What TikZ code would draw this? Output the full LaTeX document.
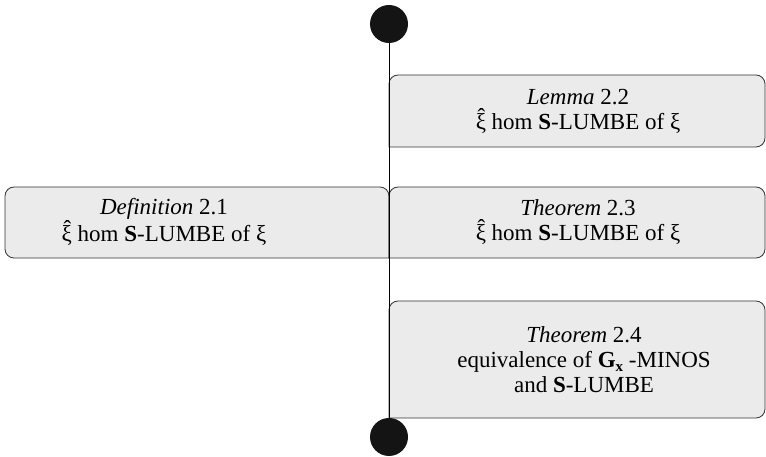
\documentclass[tikz,border=0pt]{standalone}
\usepackage{fontspec}
\setmainfont{Liberation Serif}
\newcommand\xihat{\leavevmode\rlap{\raisebox{0.22em}{\kern0.08em\char"02C6}}ξ}
\begin{document}
\begin{tikzpicture}[x=1pt,y=1pt,
  box/.style={draw=black!80,fill=black!8,line width=0.8pt},
  txt/.style={align=center,font=\fontsize{23}{25}\selectfont,inner sep=0pt},
  dot/.style={circle,fill=black!92,minimum size=38pt,inner sep=0pt}]
\useasboundingbox (0,0) rectangle (766,457);
% boxes
\draw[box,rounded corners=9pt] (389,310) -- (765,310) -- (765,382) -- (389,382) [sharp corners] -- cycle;
\draw[box,rounded corners=9pt] (389,199) -- (5,199) -- (5,270) -- (389,270) [sharp corners] -- cycle;
\draw[box,rounded corners=9pt] (389,199) -- (765,199) -- (765,270) -- (389,270) [sharp corners] -- cycle;
\draw[box,rounded corners=9pt] (389,39) -- (765,39) -- (765,156) -- (389,156) [sharp corners] -- cycle;
\node[dot] (top) at (389,433) {};
\node[dot] (bot) at (389,20) {};
\draw[line width=0.9pt] (top) -- (bot);
\node[txt] (lem) at (578,346) {\textit{Lemma} 2.2\\\xihat{} hom \textbf{S}-LUMBE of ξ};
\node[txt] (def) at (164,235) {\textit{Definition} 2.1\\\xihat{} hom \textbf{S}-LUMBE of ξ};
\node[txt] (thm3) at (578,235) {\textit{Theorem} 2.3\\\xihat{} hom \textbf{S}-LUMBE of ξ};
\node[txt] (thm4) at (584,97) {\textit{Theorem} 2.4\\equivalence of \textbf{G\raisebox{-0.35ex}{\fontsize{15}{15}\selectfont x}} -MINOS\\and \textbf{S}-LUMBE};
\end{tikzpicture}
\end{document}
